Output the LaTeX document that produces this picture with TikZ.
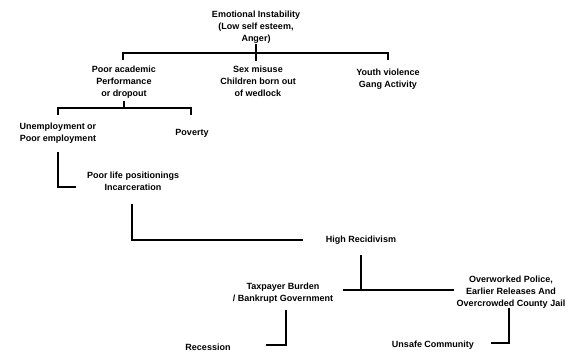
\documentclass[tikz,border=0pt]{standalone}
\usepackage{fontspec}
\setmainfont{Liberation Sans}
\begin{document}
\begin{tikzpicture}[x=1pt,y=-1pt,
  lbl/.style={align=center,inner sep=0pt,font=\bfseries\fontsize{9}{12}\selectfont},
  conn/.style={line width=1.4pt}]
\useasboundingbox[fill=white] (0,0) rectangle (573,364);
% nodes
\node[lbl] (emo) at (256,27) {Emotional Instability\\(Low self esteem,\\Anger)};
\node[lbl] (pa) at (124,82) {Poor academic\\Performance\\or dropout};
\node[lbl] (sm) at (258,81) {Sex misuse\\Children born out\\of wedlock};
\node[lbl] (yv) at (388,79) {Youth violence\\Gang Activity};
\node[lbl] (un) at (58,133) {Unemployment or\\Poor employment};
\node[lbl] (pov) at (192,133) {Poverty};
\node[lbl] (plp) at (133,181.5) {Poor life positionings\\Incarceration};
\node[lbl] (hr) at (361,240) {High Recidivism};
\node[lbl] (tb) at (283,293) {Taxpayer Burden\\/ Bankrupt Government};
\node[lbl] (ow) at (511,292.5) {Overworked Police,\\Earlier Releases And\\Overcrowded County Jail};
\node[lbl] (rec) at (208,347) {Recession};
\node[lbl] (uc) at (433,345) {Unsafe Community};
% coordinates
\coordinate (e0) at (256,44);
\coordinate (e1) at (256,61);
\coordinate (eL) at (123,53);
\coordinate (eR) at (388,53);
\coordinate (eLd) at (123,60);
\coordinate (eRd) at (388,60);
\coordinate (p0) at (124,101);
\coordinate (p1) at (124,108);
\coordinate (pL) at (58,108);
\coordinate (pR) at (191,108);
\coordinate (pLd) at (58,115);
\coordinate (pRd) at (191,115);
\coordinate (u0) at (58,152);
\coordinate (u1) at (58,187);
\coordinate (u2) at (76,187);
\coordinate (i0) at (132,204);
\coordinate (i1) at (132,240);
\coordinate (i2) at (303,240);
\coordinate (h0) at (361,255);
\coordinate (h1) at (361,290);
\coordinate (hL) at (343,290);
\coordinate (hR) at (454,290);
\coordinate (t0) at (286,310);
\coordinate (t1) at (286,345);
\coordinate (t2) at (266,345);
\coordinate (o0) at (509,308);
\coordinate (o1) at (509,343);
\coordinate (o2) at (491,343);
% connectors
\draw[conn] (e0) -- (e1);
\draw[conn] (eLd) -- (eL) -- (eR) -- (eRd);
\draw[conn] (p0) -- (p1);
\draw[conn] (pLd) -- (pL) -- (pR) -- (pRd);
\draw[conn] (u0) -- (u1) -- (u2);
\draw[conn] (i0) -- (i1) -- (i2);
\draw[conn] (h0) -- (h1);
\draw[conn] (hL) -- (hR);
\draw[conn] (t0) -- (t1) -- (t2);
\draw[conn] (o0) -- (o1) -- (o2);
\end{tikzpicture}
\end{document}
